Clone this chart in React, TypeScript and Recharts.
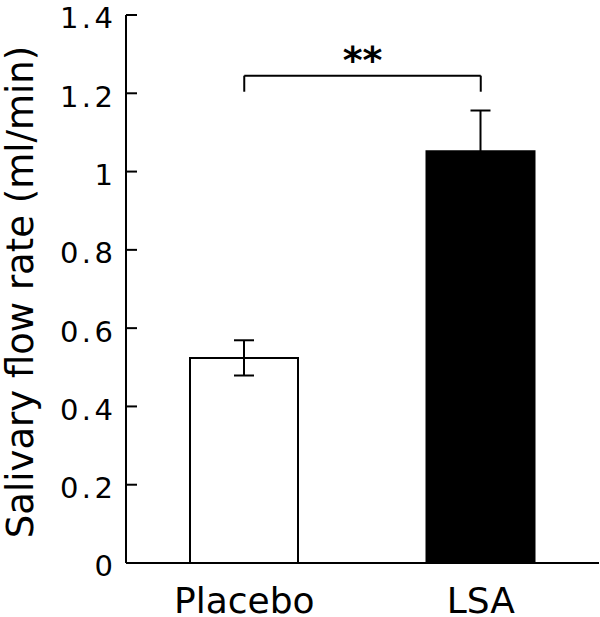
import React from 'react';
import { BarChart, Bar, XAxis, YAxis, Cell, ErrorBar, ReferenceLine } from 'recharts';

const categories = ['Placebo', 'LSA'];
const means = [0.524, 1.052];
const sems = [0.045, 0.104];
const fills = ['#ffffff', '#000000'];
const yTicks = [0, 0.2, 0.4, 0.6, 0.8, 1, 1.2, 1.4];
const yTickLabels = ['0', '0.2', '0.4', '0.6', '0.8', '1', '1.2', '1.4'];
const bracketY = 1.245;
const bracketTickY = 1.204;
const significance = '**';
const yTitle = 'Salivary flow rate (ml/min)';

const data = categories.map((c, i) => ({ name: c, mean: means[i], sem: sems[i] }));

const FONT = 'DejaVu Sans';
const AXIS_X = 126;

const YTick = (props: any) => {
  const { y, payload } = props;
  const idx = yTicks.indexOf(payload.value);
  const label = idx >= 0 ? yTickLabels[idx] : String(payload.value);
  return (
    <g>
      <line x1={AXIS_X} x2={AXIS_X + 11} y1={y} y2={y} stroke="#000" strokeWidth={2} />
      <text
        x={AXIS_X - 9.5}
        y={y + 3}
        dy="0.36em"
        textAnchor="end"
        fontFamily={FONT}
        fontSize={29}
        letterSpacing={3.5}
        fill="#000"
      >
        {label}
      </text>
    </g>
  );
};

const YTitle = (props: any) => {
  const vb = props.viewBox || { x: 0, y: 15, width: 126, height: 548 };
  const cy = vb.y + vb.height / 2 + 3;
  const cx = 33;
  return (
    <text x={cx} y={cy} transform={`rotate(-90 ${cx} ${cy})`} textAnchor="middle" fontFamily={FONT} fontSize={37} fill="#000">
      {yTitle}
    </text>
  );
};

export default function App() {
  return (
    <div style={{ position: 'absolute', left: 0, top: 0, width: 600, height: 617, background: '#fff' }}>
      <BarChart width={600} height={617} data={data} margin={{ top: 15, right: 1, bottom: 0, left: 0 }}>
        <XAxis
          dataKey="name"
          height={54}
          tickLine={false}
          tickSize={0}
          tickMargin={24}
          axisLine={{ stroke: '#000', strokeWidth: 2 }}
          tick={{ fontFamily: FONT, fontSize: 36, fill: '#000' }}
        />
        <YAxis
          width={126}
          domain={[0, 1.4]}
          ticks={yTicks}
          tickLine={false}
          tickSize={0}
          axisLine={{ stroke: '#000', strokeWidth: 2 }}
          tick={<YTick />}
          label={{ content: <YTitle /> }}
          interval={0}
        />
        <Bar dataKey="mean" barSize={108} isAnimationActive={false} stroke="#000" strokeWidth={2}>
          {data.map((d, i) => (
            <Cell key={d.name} fill={fills[i]} stroke="#000" strokeWidth={2} />
          ))}
          <ErrorBar dataKey="sem" width={10} stroke="#000" strokeWidth={2} isAnimationActive={false} />
        </Bar>
        <ReferenceLine
          segment={[{ x: categories[0], y: bracketY }, { x: categories[1], y: bracketY }]}
          stroke="#000"
          strokeWidth={2}
          label={{ value: significance, position: 'top', offset: 3, fontFamily: FONT, fontSize: 38, fontWeight: 'bold', fill: '#000' }}
        />
        <ReferenceLine
          segment={[{ x: categories[0], y: bracketY }, { x: categories[0], y: bracketTickY }]}
          stroke="#000"
          strokeWidth={2}
        />
        <ReferenceLine
          segment={[{ x: categories[1], y: bracketY }, { x: categories[1], y: bracketTickY }]}
          stroke="#000"
          strokeWidth={2}
        />
      </BarChart>
    </div>
  );
}
